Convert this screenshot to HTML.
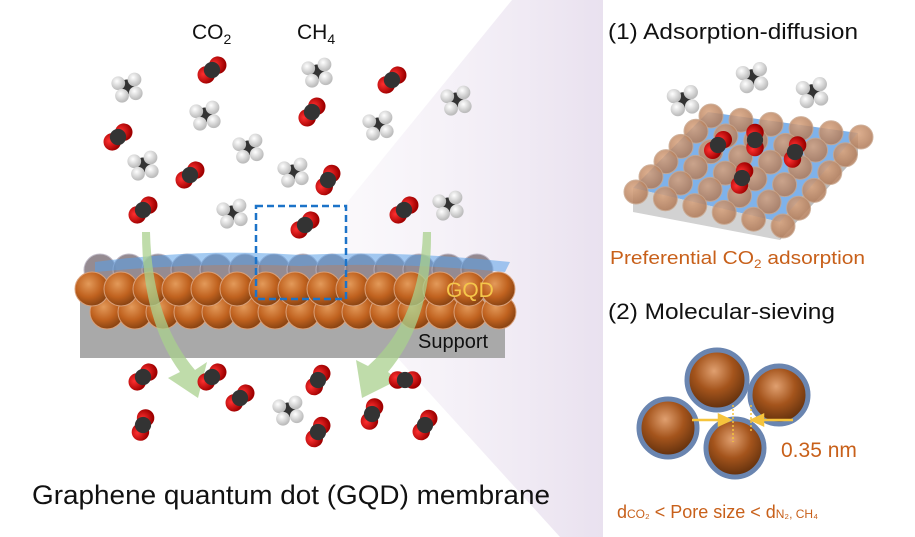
<!DOCTYPE html>
<html><head><meta charset="utf-8">
<style>
html,body{margin:0;padding:0;background:#fff;}
svg{display:block;font-family:"Liberation Sans",Arial,sans-serif;}
</style></head>
<body>
<svg id="s" width="915" height="537" viewBox="0 0 915 537" xmlns="http://www.w3.org/2000/svg">
<defs>
<radialGradient id="gs" cx="0.4" cy="0.35" r="0.65">
<stop offset="0" stop-color="#e39a5a"/><stop offset="0.6" stop-color="#c0621f"/><stop offset="1" stop-color="#8a4412"/></radialGradient>
<radialGradient id="gs2" cx="0.45" cy="0.35" r="0.65">
<stop offset="0" stop-color="#e0a070"/><stop offset="0.5" stop-color="#a4541c"/><stop offset="1" stop-color="#5e2e0c"/></radialGradient>
<radialGradient id="gp" cx="0.4" cy="0.35" r="0.65">
<stop offset="0" stop-color="#d8a27c"/><stop offset="1" stop-color="#b07a58"/></radialGradient>
<radialGradient id="red" cx="0.4" cy="0.35" r="0.6">
<stop offset="0" stop-color="#ff3030"/><stop offset="1" stop-color="#a00000"/></radialGradient>
<radialGradient id="wh" cx="0.4" cy="0.35" r="0.6">
<stop offset="0" stop-color="#ffffff"/><stop offset="1" stop-color="#bdbdbd"/></radialGradient>
<linearGradient id="pur" x1="0" y1="0" x2="1" y2="0">
<stop offset="0" stop-color="#f6f2f8" stop-opacity="0.5"/><stop offset="1" stop-color="#e9e1ef"/></linearGradient>
</defs>
<polygon points="345,205 512,0 603,0 603,537 560,537 345,300" fill="url(#pur)"/>
<rect x="80" y="288" width="425" height="70" fill="#a9a9a9"/>
<g id="layer"></g>
<path d="M95,262 Q200,248 300,255 Q400,250 510,262 L505,272 Q400,262 300,266 Q200,262 95,272Z" fill="#5aa0e8" opacity="0.55"/>
<text x="446" y="297" font-size="21" fill="#f5c64a">GQD</text>
<text x="418" y="348" font-size="20" fill="#111">Support</text>
<rect x="256" y="206" width="90" height="93" fill="none" stroke="#1c73c8" stroke-width="2.5" stroke-dasharray="7,4"/>
<path d="M142,232 L150,232 Q152,320 195,370 L207,362 L198,398 L168,378 L180,372 Q142,320 142,232Z" fill="#a9d08e" opacity="0.75"/>
<path d="M423,232 L431,232 Q432,320 388,372 L398,380 L362,398 L356,360 L368,366 Q420,320 423,232Z" fill="#a9d08e" opacity="0.75"/>
<g id="mol"></g>
<polygon points="633,188 708,112 858,133 780,222" fill="#7fb2ea"/>
<polygon points="633,188 780,222 780,240 633,212" fill="#d2d2d2"/>
<polygon points="780,222 858,133 858,155 780,240" fill="#bcbcbc"/>
<g id="pan"></g>
<text x="608" y="39" font-size="22" fill="#111" textLength="250" lengthAdjust="spacingAndGlyphs">(1) Adsorption-diffusion</text>
<text x="608" y="319" font-size="22" fill="#111" textLength="227" lengthAdjust="spacingAndGlyphs">(2) Molecular-sieving</text>
<text x="610" y="264" font-size="18.5" fill="#c8601a" textLength="255" lengthAdjust="spacingAndGlyphs">Preferential CO<tspan font-size="12" dy="4">2</tspan><tspan dy="-4"> adsorption</tspan></text>
<text x="192" y="39" font-size="21" fill="#111">CO<tspan font-size="14" dy="5">2</tspan></text>
<text x="297" y="39" font-size="21" fill="#111">CH<tspan font-size="14" dy="5">4</tspan></text>
<text x="32" y="504" font-size="27" fill="#111" textLength="518" lengthAdjust="spacingAndGlyphs">Graphene quantum dot (GQD) membrane</text>
<g stroke="#6a85b0" stroke-width="5">
<circle cx="668" cy="428" r="29" fill="url(#gs2)"/>
<circle cx="779" cy="395" r="29" fill="url(#gs2)"/>
<circle cx="735" cy="448" r="29" fill="url(#gs2)"/>
<circle cx="717" cy="380" r="30" fill="url(#gs2)"/>
</g>
<g stroke="#f6c43c" stroke-width="2.5" fill="#f6c43c">
<line x1="692" y1="420" x2="722" y2="420"/><polygon points="730,420 719,415 719,425"/>
<line x1="793" y1="420" x2="760" y2="420"/><polygon points="752,420 763,415 763,425"/>
<line x1="733" y1="405" x2="733" y2="442" stroke-dasharray="2,2" stroke-width="1.5"/>
<line x1="751" y1="405" x2="751" y2="432" stroke-dasharray="2,2" stroke-width="1.5"/>
</g>
<text x="781" y="457" font-size="21" fill="#c8601a">0.35 nm</text>
<text x="617" y="518" font-size="18" fill="#c8601a">d<tspan font-size="12">CO₂</tspan> &lt; Pore size &lt; d<tspan font-size="12">N₂, CH₄</tspan></text>
</svg>
<script>
var NS="http://www.w3.org/2000/svg";
function el(p,t,a){var e=document.createElementNS(NS,t);for(var k in a)e.setAttribute(k,a[k]);p.appendChild(e);return e;}
var L=document.getElementById("layer");
for(var x=100;x<=495;x+=29){el(L,"circle",{cx:x,cy:270,r:16,fill:"#8a7f86",opacity:0.9,stroke:"#b9b2c0","stroke-width":1});}
for(var x=95;x<=500;x+=28){el(L,"circle",{cx:x+12,cy:312,r:17,fill:"url(#gs)",stroke:"#d9a07a","stroke-width":1});}
for(var x=92;x<=500;x+=29){el(L,"circle",{cx:x,cy:289,r:17,fill:"url(#gs)",stroke:"#d9a07a","stroke-width":1});}
var M=document.getElementById("mol");
function co2(g,x,y,a,s){s=s||1;var G=el(g,"g",{transform:"translate("+x+","+y+") rotate("+a+") scale("+s+")"});
el(G,"circle",{cx:-6,cy:0,r:7,fill:"url(#red)"});el(G,"circle",{cx:6,cy:0,r:7,fill:"url(#red)"});el(G,"circle",{cx:0,cy:0,r:6.5,fill:"#333"});}
function ch4(g,x,y,s){s=s||1;var G=el(g,"g",{transform:"translate("+x+","+y+") scale("+s+")"});
el(G,"circle",{cx:0,cy:0,r:6,fill:"#333"});
[[-7,-3],[6,-6],[7,5],[-4,7]].forEach(function(p){el(G,"circle",{cx:p[0],cy:p[1],r:5.5,fill:"url(#wh)"});});}
[[212,70,-40],[312,112,-50],[392,80,-40],[118,137,-40],[190,175,-40],[328,180,-60],[143,210,-40],[305,225,-40],[404,210,-40],
[143,377,-40],[212,377,-40],[318,380,-60],[405,380,0],[143,425,-70],[240,398,-40],[318,432,-60],[372,414,-70],[425,425,-60]].forEach(function(c){co2(M,c[0],c[1],c[2],1.25);});
[[127,87],[205,115],[317,72],[456,100],[378,125],[248,148],[143,165],[293,172],[232,213],[448,205],[288,410]].forEach(function(c){ch4(M,c[0],c[1],1.25);});
var P=document.getElementById("pan");
for(var i=0;i<6;i++)for(var j=0;j<6;j++){
 var u=i/5,v=j/5;
 var x=708+(858-708)*u+(633-708)*v+((780-858)-(633-708))*u*v;
 var y=112+(133-112)*u+(188-112)*v+((222-133)-(188-112))*u*v;
 el(P,"circle",{cx:x+3,cy:y+4,r:12,fill:"url(#gp)",stroke:"#c8a48a","stroke-width":1,opacity:0.85});}
co2(P,718,145,-45,1.25);co2(P,795,152,-70,1.25);co2(P,742,178,-70,1.25);co2(P,755,140,-90,1.25);
ch4(P,683,100,1.3);ch4(P,752,77,1.3);ch4(P,812,92,1.3);
</script>
</body></html>
